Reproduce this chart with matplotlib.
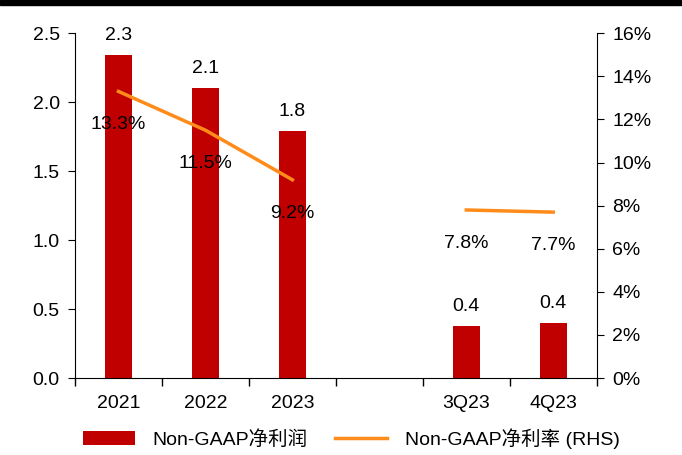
import numpy as np
import matplotlib
matplotlib.use("Agg")
import matplotlib.pyplot as plt
from matplotlib.patches import Rectangle

plt.rcParams["font.family"] = ["Liberation Sans", "Noto Sans CJK SC"]
plt.rcParams["font.size"] = 14

categories = ["2021", "2022", "2023", "", "3Q23", "4Q23"]
profit = [2.34, 2.10, 1.79, np.nan, 0.38, 0.40]
profit_labels = ["2.3", "2.1", "1.8", "", "0.4", "0.4"]
margin = [13.3, 11.5, 9.2, np.nan, 7.8, 7.7]
margin_labels = ["13.3%", "11.5%", "9.2%", "", "7.8%", "7.7%"]

BAR_COLOR = "#C00000"
LINE_COLOR = "#FF8C1A"

fig = plt.figure(figsize=(6.82, 4.55), dpi=100)
ax = fig.add_axes([0.110, 0.169, 0.765, 0.758])
ax2 = ax.twinx()

x = np.arange(len(categories))
ax.bar(x, profit, width=0.31, color=BAR_COLOR, label="Non-GAAP净利润", zorder=2)
for xi, v, lab in zip(x, profit, profit_labels):
    if lab:
        ax.text(xi, v + 0.08, lab, ha="center", va="bottom")

ax2.plot(x, margin, color=LINE_COLOR, lw=2.5, label="Non-GAAP净利率 (RHS)", zorder=3)
for xi, v, lab in zip(x, margin, margin_labels):
    if lab:
        ax2.text(xi, v - 1.15, lab, ha="center", va="top")

ax.set_xlim(-0.5, len(categories) - 0.5)
ax.set_ylim(0, 2.5)
ax.set_yticks(np.arange(0, 2.51, 0.5))
ax.set_yticklabels([f"{v:.1f}" for v in np.arange(0, 2.51, 0.5)])
ax2.set_ylim(0, 16)
ax2.set_yticks(np.arange(0, 17, 2))
ax2.set_yticklabels([f"{v}%" for v in range(0, 17, 2)])

ax.set_xticks(x)
ax.set_xticklabels(categories)
ax.set_xticks(np.arange(-0.5, len(categories), 1.0), minor=True)
ax.tick_params(axis="x", which="major", length=0, pad=12)
ax.tick_params(axis="x", which="minor", length=6, width=1, direction="out")
ax.tick_params(axis="y", length=5, direction="out", pad=6)
ax2.tick_params(axis="y", length=5, direction="out", pad=6)

for a in (ax, ax2):
    a.spines["top"].set_visible(False)
ax.spines["right"].set_visible(False)
ax2.spines["left"].set_visible(False)
ax2.spines["bottom"].set_visible(False)

# black band across the top
fig.add_artist(Rectangle((0, 0.989), 1, 0.011, transform=fig.transFigure, color="black"))

h1, l1 = ax.get_legend_handles_labels()
h2, l2 = ax2.get_legend_handles_labels()
fig.legend(h1 + h2, l1 + l2, loc="lower center", bbox_to_anchor=(0.515, -0.025), ncol=2,
           frameon=False, fontsize=14, handlelength=2.7, columnspacing=1.4, handletextpad=0.9)

fig.savefig("out.png", dpi=100)
